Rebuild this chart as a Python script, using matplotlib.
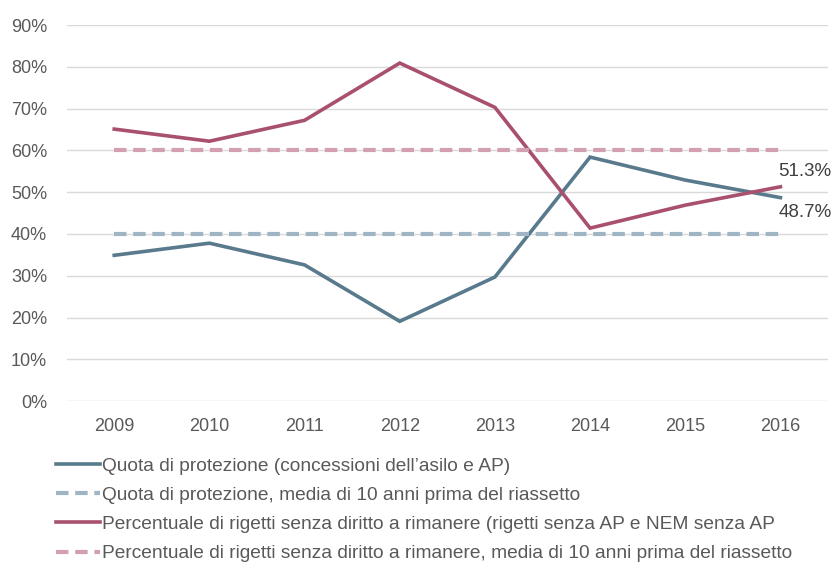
import numpy as np
import matplotlib.pyplot as plt

years = ["2009", "2010", "2011", "2012", "2013", "2014", "2015", "2016"]
quota = [34.9, 37.8, 32.6, 19.1, 29.7, 58.4, 52.9, 48.7]
quota_avg = [40.0] * 8
rigetti = [65.1, 62.2, 67.2, 80.9, 70.3, 41.4, 46.9, 51.3]
rigetti_avg = [60.0] * 8
labels = [
    "Quota di protezione (concessioni dell\u2019asilo e AP)",
    "Quota di protezione, media di 10 anni prima del riassetto",
    "Percentuale di rigetti senza diritto a rimanere (rigetti senza AP e NEM senza AP",
    "Percentuale di rigetti senza diritto a rimanere, media di 10 anni prima del riassetto",
]

plt.rcParams["font.family"] = ["Liberation Sans", "DejaVu Sans"]

BLUE, BLUE_L = "#587a8c", "#9fb5c3"
RED, RED_L = "#a8506e", "#d3a0b1"
GREY = "#595959"

fig = plt.figure(figsize=(8.33, 5.69), dpi=100)
ax = fig.add_axes([0.080, 0.295, 0.914, 0.661])
x = np.arange(len(years))

l1, = ax.plot(x, quota, color=BLUE, lw=2.6, solid_joinstyle="miter")
l2, = ax.plot(x, quota_avg, color=BLUE_L, lw=3.0, dashes=(3.0, 1.6))
l3, = ax.plot(x, rigetti, color=RED, lw=2.6, solid_joinstyle="miter")
l4, = ax.plot(x, rigetti_avg, color=RED_L, lw=3.0, dashes=(3.0, 1.6))

ax.text(x[-1] - 0.02, rigetti[-1] + 1.6, f"{rigetti[-1]:.1f}%", fontsize=13.5,
        color="#404040", ha="left", va="bottom")
ax.text(x[-1] - 0.02, quota[-1] - 1.6, f"{quota[-1]:.1f}%", fontsize=13.5,
        color="#404040", ha="left", va="top")

ax.set_xlim(-0.5, len(years) - 0.5)
ax.set_ylim(0, 90)
ax.set_yticks(np.arange(0, 91, 10))
ax.set_yticklabels([f"{v}%" for v in range(0, 91, 10)])
ax.set_xticks(x)
ax.set_xticklabels(years)
ax.grid(axis="y", color="#d9d9d9", lw=1.0)
ax.set_axisbelow(True)
for s in ax.spines.values():
    s.set_visible(False)
ax.tick_params(length=0, labelsize=13, colors=GREY)
ax.tick_params(axis="x", pad=12)
ax.tick_params(axis="y", pad=14)

fig.legend([l1, l2, l3, l4], labels, loc="upper left", bbox_to_anchor=(0.058, 0.21),
           frameon=False, fontsize=13.8, labelcolor=GREY, handlelength=2.3,
           handletextpad=0.12, labelspacing=0.62, borderaxespad=0)

fig.savefig("out.png", dpi=100)
